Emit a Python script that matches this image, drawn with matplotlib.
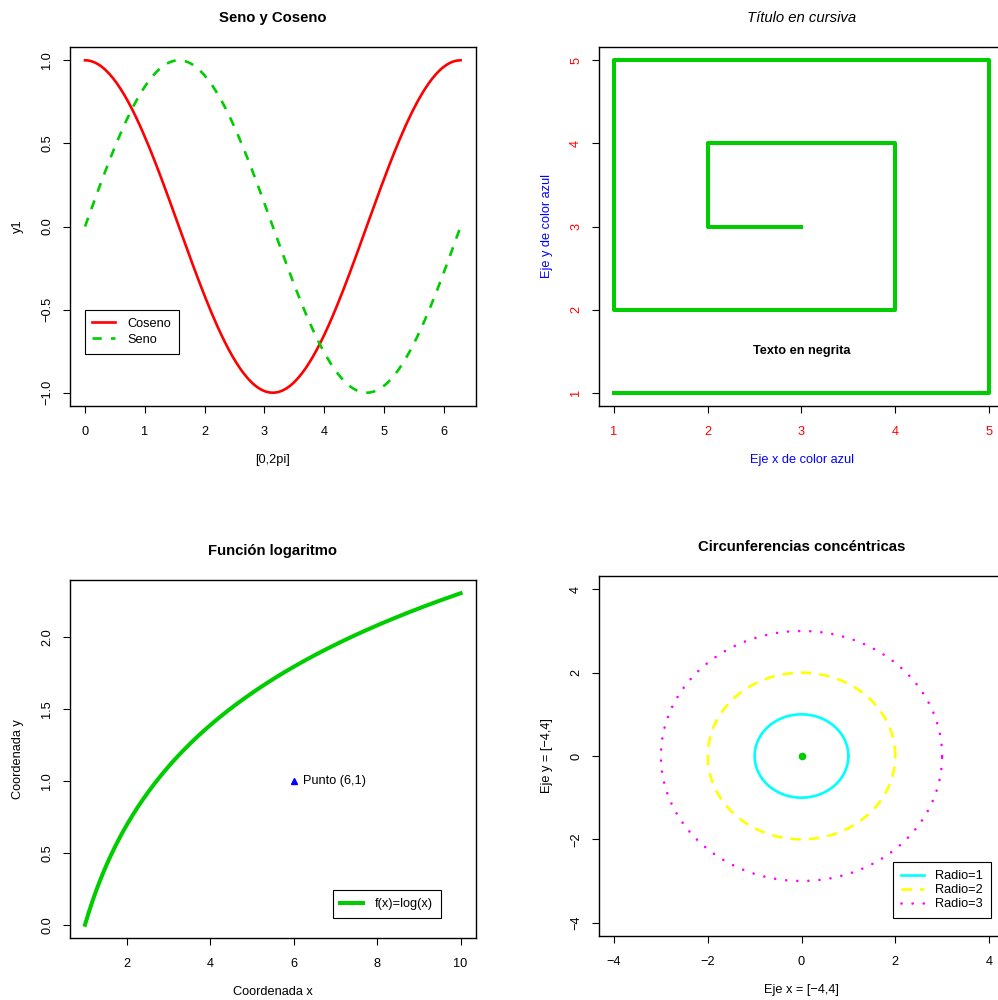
import numpy as np
import matplotlib
matplotlib.use('Agg')
import matplotlib.pyplot as plt

plt.rcParams['font.family'] = ['Liberation Sans', 'DejaVu Sans']
plt.rcParams['font.size'] = 9.2
plt.rcParams['axes.linewidth'] = 1.0
plt.rcParams['xtick.major.size'] = 5
plt.rcParams['ytick.major.size'] = 5
plt.rcParams['xtick.major.pad'] = 9.3
plt.rcParams['ytick.major.pad'] = 7.2
plt.rcParams['legend.fontsize'] = 9.2

W, H = 998, 1000
GREEN = '#00CD00'

# --- datos ---
x_trig = np.linspace(0, 2 * np.pi, 200)
y_cos = np.cos(x_trig)
y_sin = np.sin(x_trig)
trig_xticks = [0, 1, 2, 3, 4, 5, 6]
trig_yticks = [-1.0, -0.5, 0.0, 0.5, 1.0]

espiral_x = [3, 2, 2, 4, 4, 1, 1, 5, 5, 1]
espiral_y = [3, 3, 4, 4, 2, 2, 5, 5, 1, 1]
espiral_ticks = [1, 2, 3, 4, 5]

x_log = np.linspace(1, 10, 200)
y_log = np.log(x_log)
punto = (6, 1)
log_xticks = [2, 4, 6, 8, 10]
log_yticks = [0.0, 0.5, 1.0, 1.5, 2.0]

radios = [1, 2, 3]
circ_ticks = [-4, -2, 0, 2, 4]
theta = np.linspace(0, 2 * np.pi, 300)


def make_axes(fig, left, top, right, bottom):
    # rectángulo en píxeles -> coordenadas de figura
    ax = fig.add_axes([left / W, 1 - bottom / H, (right - left) / W, (bottom - top) / H])
    ax.tick_params(axis='y', labelrotation=90)
    return ax


def center_yticklabels(ax):
    for lab in ax.get_yticklabels():
        lab.set_va('center')


def r_pad(lo, hi):
    d = (hi - lo) * 0.04
    return lo - d, hi + d


def labels(ax, title, xlabel, ylabel, title_off=29, style='normal',
           weight='bold', xcol='black', ycol='black'):
    w_px = ax.get_position().width * W
    h_px = ax.get_position().height * H
    ax.set_title(title, y=1 + title_off / h_px, va='center', pad=0, fontsize=10.7,
                 fontweight=weight, fontstyle=style)
    ax.set_xlabel(xlabel, color=xcol)
    ax.set_ylabel(ylabel, color=ycol)
    ax.xaxis.set_label_coords(0.5, -54 / h_px)
    ax.xaxis.label.set_va('center')
    ax.yaxis.set_label_coords(-52 / w_px, 0.5)
    ax.yaxis.label.set_va('center')


def box_legend(ax, loc, anchor, spacing=0.3):
    leg = ax.legend(loc=loc, bbox_to_anchor=anchor, borderaxespad=0, fancybox=False,
                    edgecolor='black', framealpha=1, handlelength=1.8, borderpad=0.62,
                    labelspacing=spacing, handletextpad=0.9)
    leg.get_frame().set_linewidth(0.8)
    return leg


fig = plt.figure(figsize=(W / 100, H / 100), dpi=100)

# Seno y Coseno
ax1 = make_axes(fig, 70, 47, 475.6, 406)
ax1.plot(x_trig, y_cos, color='red', lw=1.9, label='Coseno')
ax1.plot(x_trig, y_sin, color=GREEN, lw=1.9, dashes=(3.5, 3.5), label='Seno')
ax1.set_xlim(*r_pad(0, 2 * np.pi))
ax1.set_ylim(*r_pad(-1, 1))
ax1.set_xticks(trig_xticks)
ax1.set_yticks(trig_yticks)
ax1.set_yticklabels(['\u22121.0', '\u22120.5', '0.0', '0.5', '1.0'])
center_yticklabels(ax1)
labels(ax1, 'Seno y Coseno', '[0,2pi]', 'y1')
box_legend(ax1, 'upper left', (14.5 / 405.6, 96 / 359))

# Título en cursiva
ax2 = make_axes(fig, 599, 47, 1004, 406)
ax2.plot(espiral_x, espiral_y, color=GREEN, lw=2.9)
ax2.set_xlim(*r_pad(1, 5))
ax2.set_ylim(*r_pad(1, 5))
ax2.set_xticks(espiral_ticks)
ax2.set_yticks(espiral_ticks)
ax2.tick_params(labelcolor='red')
center_yticklabels(ax2)
labels(ax2, 'Título en cursiva', 'Eje x de color azul', 'Eje y de color azul',
       style='italic', weight='normal', xcol='blue', ycol='blue')
ax2.text(3, 1.5, 'Texto en negrita', ha='center', va='center', fontweight='bold')

# Función logaritmo
ax3 = make_axes(fig, 70, 580, 475.6, 938)
ax3.plot(x_log, y_log, color=GREEN, lw=2.9, label='f(x)=log(x)')
ax3.plot(*punto, marker='^', color='blue', ms=5, ls='none')
ax3.text(punto[0] + 0.22, punto[1], 'Punto (6,1)', ha='left', va='center')
ax3.set_xlim(*r_pad(1, 10))
ax3.set_ylim(*r_pad(0, np.log(10)))
ax3.set_xticks(log_xticks)
ax3.set_yticks(log_yticks)
center_yticklabels(ax3)
labels(ax3, 'Función logaritmo', 'Coordenada x', 'Coordenada y')
box_legend(ax3, 'lower right', ((441 - 70) / 405.6, 20 / 358))

# Circunferencias concéntricas
ax4 = make_axes(fig, 599, 576, 1004, 936)
estilos = [dict(color='#00FFFF', lw=1.9),
           dict(color='#FFFF00', lw=1.9, dashes=(4, 3)),
           dict(color='#FF00FF', lw=1.9, dashes=(0.01, 4.2), dash_capstyle='round')]
for r, st in zip(radios, estilos):
    ax4.plot(r * np.cos(theta), r * np.sin(theta), label='Radio=%d' % r, **st)
ax4.plot(0, 0, marker='o', color=GREEN, ms=4.5, ls='none')
ax4.set_xlim(*r_pad(-4, 4))
ax4.set_ylim(*r_pad(-4, 4))
ax4.set_xticks(circ_ticks)
ax4.set_yticks(circ_ticks)
ax4.set_xticklabels(['\u22124', '\u22122', '0', '2', '4'])
ax4.set_yticklabels(['\u22124', '\u22122', '0', '2', '4'])
center_yticklabels(ax4)
labels(ax4, 'Circunferencias concéntricas', 'Eje x = [\u22124,4]', 'Eje y = [\u22124,4]')
box_legend(ax4, 'lower right', ((991 - 599) / 405, 18 / 360), spacing=0.15)

fig.savefig('out.png', dpi=100)
